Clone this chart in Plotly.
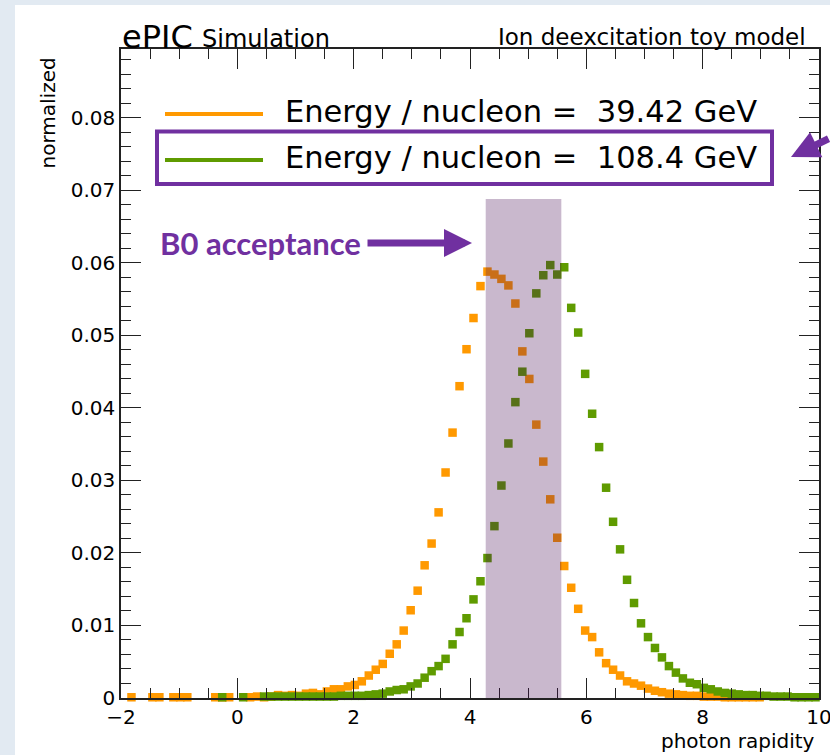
import numpy as np
import plotly.graph_objects as go

# ---- binning (x axis definition) ----
bin_lo, bin_hi, n_bins = -2.0, 10.0, 100

# ---- data (normalized counts per bin, None = empty bin) ----
orange_vals = [
    None, 0.0001, None, None, 0.0001, 0.0001, None, 0.0001, 0.0001, 0.0001,
    None, None, None, 0.0001, 0.0001, 0.0001, None, None, 0.0001, 0.0002,
    0.0001, 0.0002, 0.0004, 0.0003, 0.0004, 0.0003, 0.0006, 0.0007, 0.0005, 0.0009,
    0.0012, 0.0012, 0.0016, 0.0018, 0.0023, 0.0031, 0.0039, 0.0047, 0.0061, 0.0074,
    0.0093, 0.0121, 0.0148, 0.0183, 0.0213, 0.0256, 0.0311, 0.0366, 0.0430, 0.0481,
    0.0524, 0.0568, 0.0588, 0.0584, 0.0578, 0.0569, 0.0544, 0.0478, 0.0440, 0.0377,
    0.0326, 0.0274, 0.0221, 0.0182, 0.0152, 0.0123, 0.0093, 0.0084, 0.0063, 0.0048,
    0.0039, 0.0031, 0.0023, 0.0020, 0.0017, 0.0013, 0.0010, 0.0008, 0.0006, 0.0005,
    0.0004, 0.0003, 0.0003, 0.0002, 0.0002, 0.0002, 0.0001, 0.0001, 0.0001, 0.0001,
    0.0001, 0.0001, None, None, None, None, None, None, None, None,
]
green_vals = [
    None, None, None, None, None, None, None, None, None, None,
    None, None, None, None, 0.0001, None, None, 0.0001, None, None,
    0.0002, 0.0002, 0.0002, 0.0002, 0.0002, 0.0002, 0.0002, 0.0002, 0.0002, 0.0002,
    0.0002, 0.0003, 0.0003, 0.0003, 0.0003, 0.0004, 0.0005, 0.0006, 0.0009, 0.0011,
    0.0012, 0.0016, 0.0020, 0.0028, 0.0037, 0.0044, 0.0054, 0.0074, 0.0091, 0.0110,
    0.0136, 0.0161, 0.0193, 0.0237, 0.0293, 0.0351, 0.0408, 0.0450, 0.0503, 0.0558,
    0.0583, 0.0597, 0.0584, 0.0594, 0.0538, 0.0504, 0.0447, 0.0392, 0.0346, 0.0290,
    0.0243, 0.0205, 0.0163, 0.0131, 0.0103, 0.0084, 0.0069, 0.0056, 0.0044, 0.0035,
    0.0027, 0.0021, 0.0019, 0.0014, 0.0012, 0.0009, 0.0007, 0.0006, 0.0005, 0.0004,
    0.0004, 0.0003, 0.0003, 0.0002, 0.0002, 0.0002, 0.0001, 0.0001, 0.0001, 0.0001,
]
series_labels = ["Energy / nucleon =  39.42 GeV", "Energy / nucleon =  108.4 GeV"]
acceptance_range = [4.27, 5.57]
acceptance_top = 0.0688

bin_w = (bin_hi - bin_lo) / n_bins
x_centers = bin_lo + bin_w * (np.arange(n_bins) + 0.5)

ORANGE = "#FF9900"
GREEN = "#5F9B00"
PURPLE = "#7030A0"
FONT = "DejaVu Sans"

W, H = 830, 755
ML, MR, MT, MB = 121, 11, 49, 57
PW, PH = W - ML - MR, H - MT - MB


def px(xp):
    return (xp - ML) / PW


def py(yp):
    return (H - MB - yp) / PH


fig = go.Figure()
for vals, col in [(orange_vals, ORANGE), (green_vals, GREEN)]:
    fig.add_trace(go.Scatter(
        x=x_centers, y=vals, mode="markers",
        marker=dict(symbol="square", size=8.5, color=col, line=dict(width=0)),
        cliponaxis=False, showlegend=False,
    ))

shapes = [
    # white slide panel
    dict(type="rect", xref="paper", yref="paper", x0=px(15), x1=px(900), y0=py(800), y1=py(5),
         fillcolor="white", line=dict(width=0), layer="below"),
    # acceptance band
    dict(type="rect", xref="x", yref="y", x0=acceptance_range[0], x1=acceptance_range[1],
         y0=0, y1=acceptance_top, fillcolor="rgba(68,10,82,0.29)", line=dict(width=0), layer="above"),
    # legend lines
    dict(type="line", xref="paper", yref="paper", x0=px(165), x1=px(263), y0=py(114), y1=py(114),
         line=dict(color=ORANGE, width=4)),
    dict(type="line", xref="paper", yref="paper", x0=px(165), x1=px(263), y0=py(160), y1=py(160),
         line=dict(color=GREEN, width=4)),
    # purple highlight box around second legend entry
    dict(type="rect", xref="paper", yref="paper", x0=px(157), x1=px(772), y0=py(184), y1=py(131.5),
         line=dict(color=PURPLE, width=4), fillcolor="rgba(0,0,0,0)"),
]

annotations = [
    dict(text="ePIC", xref="paper", yref="paper", x=px(120), y=py(37), xanchor="left", yanchor="middle",
         showarrow=False, font=dict(family=FONT, size=32, color="black")),
    dict(text="Simulation", xref="paper", yref="paper", x=px(200), y=py(39), xanchor="left", yanchor="middle",
         showarrow=False, font=dict(family=FONT, size=24, color="black")),
    dict(text="Ion deexcitation toy model", xref="paper", yref="paper", x=px(808), y=py(37),
         xanchor="right", yanchor="middle", showarrow=False, font=dict(family=FONT, size=23, color="black")),
    dict(text="normalized", xref="paper", yref="paper", x=px(47), y=py(56), textangle=-90,
         xanchor="center", yanchor="top", showarrow=False, font=dict(family=FONT, size=20, color="black")),
    dict(text="photon rapidity", xref="paper", yref="paper", x=px(817), y=py(741),
         xanchor="right", yanchor="middle", showarrow=False, font=dict(family=FONT, size=20, color="black")),
    dict(text=series_labels[0], xref="paper", yref="paper", x=px(283), y=py(111), xanchor="left",
         yanchor="middle", showarrow=False, font=dict(family=FONT, size=30.5, color="black")),
    dict(text=series_labels[1], xref="paper", yref="paper", x=px(283), y=py(158), xanchor="left",
         yanchor="middle", showarrow=False, font=dict(family=FONT, size=30.5, color="black")),
    dict(text="<b>B0 acceptance</b>", xref="paper", yref="paper", x=px(158), y=py(243), xanchor="left",
         yanchor="middle", showarrow=False, font=dict(family="Lato", size=31, color=PURPLE)),
    # arrow to acceptance band
    dict(text="", xref="paper", yref="paper", x=px(472), y=py(243), ax=-106, ay=0,
         showarrow=True, arrowhead=2, arrowsize=0.8, arrowwidth=7, arrowcolor=PURPLE, standoff=0),
    # arrow pointing at legend box
    dict(text="", xref="paper", yref="paper", x=px(791), y=py(157), ax=62, ay=-19,
         showarrow=True, arrowhead=2, arrowsize=0.8, arrowwidth=7, arrowcolor=PURPLE, standoff=0),
]

axis_common = dict(
    showgrid=False, zeroline=False, showline=True, linecolor="#222", linewidth=1.5,
    mirror="allticks", ticks="inside", tickcolor="#222", tickwidth=1.3, automargin=False,
    ticklabeloverflow="allow",
    tickfont=dict(family=FONT, size=20, color="black"),
)

fig.update_layout(
    width=W, height=H,
    margin=dict(l=ML, r=MR, t=MT, b=MB, autoexpand=False),
    paper_bgcolor="#E2EAF2", plot_bgcolor="white",
    xaxis=dict(range=[bin_lo, bin_hi], dtick=2, tick0=0, ticklen=20,
               minor=dict(dtick=0.5, tick0=0, ticklen=10, ticks="inside", tickcolor="#222", tickwidth=1.3),
               **axis_common),
    yaxis=dict(range=[0, 0.0895], dtick=0.01, tick0=0, ticklen=20,
               minor=dict(dtick=0.002, tick0=0, ticklen=10, ticks="inside", tickcolor="#222", tickwidth=1.3),
               **axis_common),
    shapes=shapes, annotations=annotations,
)

fig.write_html("out.html", config={"displayModeBar": False},
               post_script="document.body.style.margin='0px';document.body.style.overflow='hidden';")
